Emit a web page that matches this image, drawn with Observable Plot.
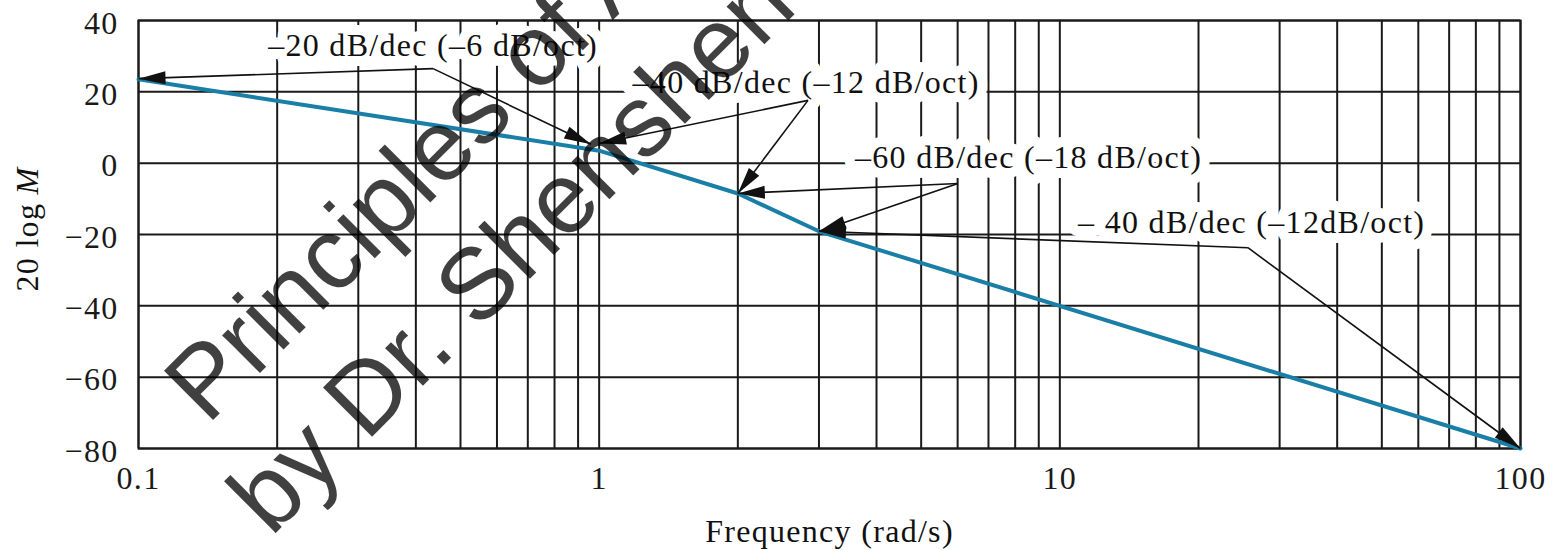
<!DOCTYPE html>
<html>
<head>
<meta charset="utf-8">
<script src="https://cdn.jsdelivr.net/npm/d3@7"></script>
<script src="https://cdn.jsdelivr.net/npm/@observablehq/plot@0.6"></script>
<style>
  html, body { margin: 0; padding: 0; background: #fff; overflow: hidden; }
  svg text { letter-spacing: 1.3px; }
  g[font-family*="Sans"] text { letter-spacing: 0; }
</style>
</head>
<body>
<div id="chart"></div>
<script>
// Asymptotic Bode magnitude (break points)
const freq = [0.1, 1, 2, 3, 100];
const magDb = [23.5, 3.5, -8.5, -19.1, -80];

// Grid / ticks
const xGrid = [0.1, 0.2, 0.3, 0.4, 0.5, 0.6, 0.7, 0.8, 0.9,
               1, 2, 3, 4, 5, 6, 7, 8, 9,
               10, 20, 30, 40, 50, 60, 70, 80, 90, 100];
const yGrid = [-80, -60, -40, -20, 0, 20, 40];
const xTicks = [0.1, 1, 10, 100];
const xTickLabels = ["0.1", "1", "10", "100"];
const yTicks = [-80, -60, -40, -20, 0, 20, 40];

// Slope annotations
const labelText = ["–20 dB/dec (–6 dB/oct)", "–40 dB/dec (–12 dB/oct)", "–60 dB/dec (–18 dB/oct)", "– 40 dB/dec (–12dB/oct)"];
const labelX = [0.436, 2.814, 8.555, 26.09];
const labelY = [33.0, 22.6, 1.6, -16.7];

// Leader arrows (from knee to tip)
const leaderFromX = [0.436, 0.436, 2.84, 2.84, 6.01, 6.01, 25.6, 25.6];
const leaderFromY = [26.5, 26.5, 17.6, 17.6, -5.7, -5.7, -23.7, -23.7];
const leaderToX = [0.1, 0.96, 1.0, 2, 2, 3, 3, 100];
const leaderToY = [23.7, 5.3, 5.5, -8.5, -8.5, -19.1, -19.1, -80];

// Watermark
const wmText = ["Principles of A", "by Dr. Shenshen"];
const wmX = [0.141, 0.194];
const wmY = [-73.6, -105.0];

const serif = "'Liberation Serif', 'Times New Roman', Times, serif";
const sans = "'Liberation Sans', Arial, Helvetica, sans-serif";
const ink = "#1a1a1a";

const curve = freq.map((f, i) => ({f, m: magDb[i]}));
const labels = labelText.map((t, i) => ({t, x: labelX[i], y: labelY[i]}));
const leaders = leaderFromX.map((x1, i) => ({x1, y1: leaderFromY[i], x2: leaderToX[i], y2: leaderToY[i]}));
const wm = wmText.map((t, i) => ({t, x: wmX[i], y: wmY[i]}));

const plot = Plot.plot({
  width: 1557,
  height: 550,
  marginLeft: 138,
  marginRight: 37,
  marginTop: 20,
  marginBottom: 102,
  style: {background: "white", color: ink, fontFamily: serif, fontSize: "32px"},
  x: {type: "log", domain: [0.1, 100], label: null},
  y: {domain: [-80, 40], label: null},
  marks: [
    Plot.ruleX(xGrid, {stroke: ink, strokeWidth: 2}),
    Plot.ruleY(yGrid, {stroke: ink, strokeWidth: 2}),
    Plot.text(labels, {x: "x", y: "y", text: "t", fontSize: 32, fontFamily: serif, fill: "#111",
      stroke: "white", strokeWidth: 20, strokeLinejoin: "round", paintOrder: "stroke"}),
    Plot.frame({stroke: ink, strokeWidth: 2}),
    Plot.line(curve, {x: "f", y: "m", stroke: "#1a7fa6", strokeWidth: 4}),
    Plot.link(leaders, {x1: "x1", y1: "y1", x2: "x2", y2: "y2", stroke: "#111", strokeWidth: 1.6, markerEnd: "arrow"}),
    Plot.axisY({ticks: yTicks, tickSize: 0, tickPadding: 20, fontSize: 32, fontFamily: serif, dy: 3, label: null}),
    Plot.axisX({ticks: xTicks, tickFormat: d => xTickLabels[xTicks.indexOf(d)], tickSize: 0, tickPadding: 18, fontSize: 32, fontFamily: serif, label: null}),
    Plot.text(["Frequency (rad/s)"], {frameAnchor: "bottom", text: d => d, dy: 83, fontSize: 32, fontFamily: serif, lineAnchor: "middle", fill: "#111"}),
    Plot.text(["20 log"], {frameAnchor: "left", text: d => d, rotate: -90, textAnchor: "start", dx: -111, dy: 57, fontSize: 32, fontFamily: serif, lineAnchor: "middle", fill: "#111"}),
    Plot.text(["M"], {frameAnchor: "left", text: d => d, rotate: -90, textAnchor: "start", dx: -111, dy: -40, fontSize: 32, fontFamily: serif, fontStyle: "italic", lineAnchor: "middle", fill: "#111"}),
    Plot.text(wm, {x: "x", y: "y", text: "t", rotate: -45, textAnchor: "start", lineAnchor: "bottom",
      fontSize: 101, fontFamily: sans, fill: "#000", fillOpacity: 0.75})
  ]
});

// Filled, elongated arrowheads for the leader lines
d3.select(plot).selectAll("marker").each(function() {
  const m = d3.select(this);
  m.attr("viewBox", "-29 -8 30 16")
   .attr("markerWidth", 30)
   .attr("markerHeight", 16)
   .attr("markerUnits", "userSpaceOnUse")
   .attr("refX", 0).attr("refY", 0)
   .attr("fill", "#111")
   .attr("stroke", "none");
  m.selectAll("*").remove();
  m.append("path").attr("d", "M0,0L-27,-6.5L-27,6.5Z");
});

document.getElementById("chart").appendChild(plot);
</script>
</body>
</html>
